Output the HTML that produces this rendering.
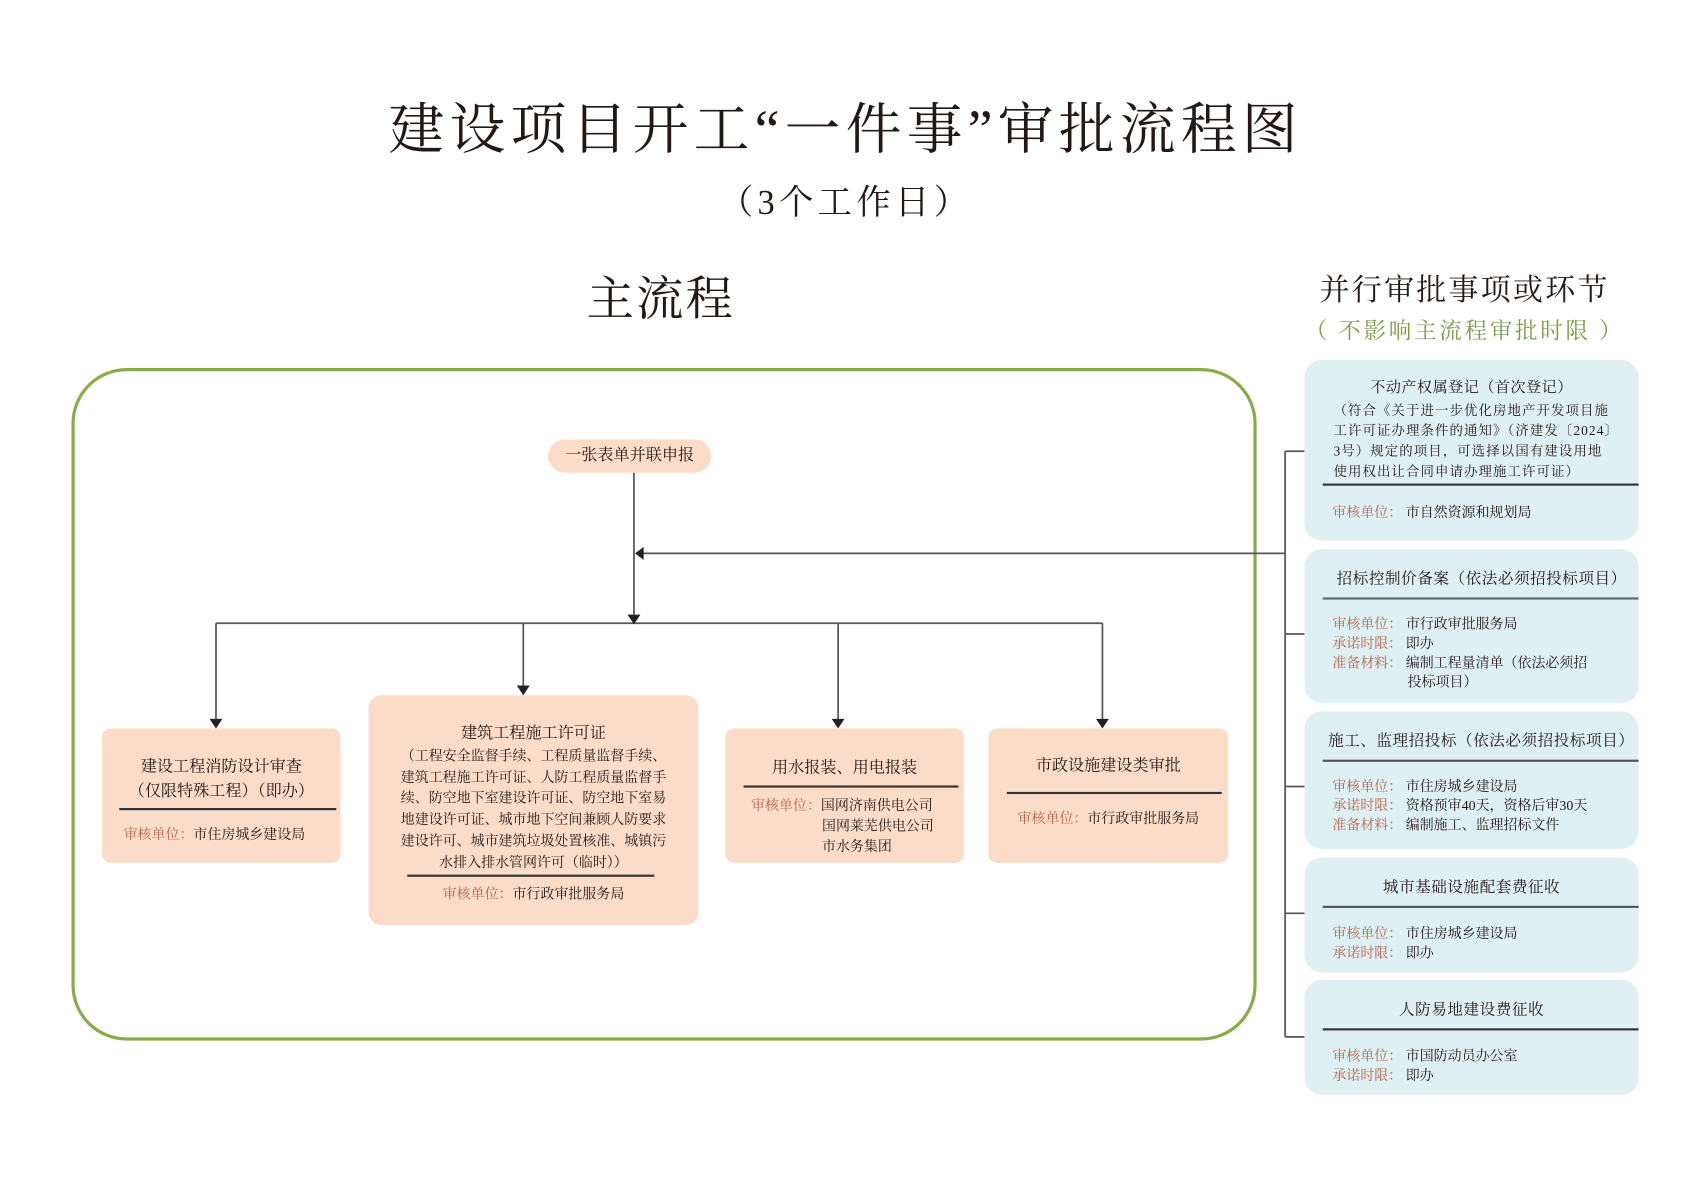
<!DOCTYPE html>
<html><head><meta charset="utf-8">
<style>
html,body{margin:0;padding:0;background:#fff;width:1683px;height:1190px;overflow:hidden}
#s{position:absolute;left:0;top:0;width:1567px;height:1108px;transform:scale(1.0745);transform-origin:0 0;font-family:"Liberation Serif","Noto Serif CJK SC",serif;color:#231815}
.a{position:absolute}
.c{text-align:center;white-space:nowrap}
.pk{position:absolute;background:#fbdcc8;border-radius:8px}
.bl{position:absolute;background:#dff0f4;border-radius:16px}
.hr{position:absolute;height:1.5px;background:#333}
.lb{color:#b5654a}
.t13{font-size:13px;line-height:18px}
.t15{font-size:15px}
</style></head><body><div id="s">
<div class="a c" style="left:0;width:1574px;top:90px;font-size:52px;line-height:64px;letter-spacing:4.8px">建设项目开工“一件事”审批流程图</div>
<div class="a c" style="left:0;width:1574px;top:168px;font-size:32px;line-height:40px;letter-spacing:4px">（3个工作日）</div>
<div class="a c" style="left:0;width:1230px;top:252px;font-size:44px;line-height:54px;letter-spacing:2px">主流程</div>
<div class="a c" style="left:1163px;width:400px;top:253px;font-size:28px;line-height:36px;letter-spacing:2px">并行审批事项或环节</div>
<div class="a c" style="left:1163px;width:400px;top:294px;font-size:21px;line-height:28px;color:#7b9c48;letter-spacing:2.5px">（ 不影响主流程审批时限 ）</div>

<svg class="a" style="left:0;top:0" width="1567" height="1108">
<rect x="68" y="344" width="1100" height="623" rx="50" fill="none" stroke="#8aab4a" stroke-width="3"/>
<g stroke="#555" stroke-width="1.6" fill="none">
<line x1="590" y1="440" x2="590" y2="572"/>
<line x1="598" y1="515" x2="1196" y2="515"/>
<line x1="201" y1="580" x2="1026" y2="580"/>
<line x1="201" y1="580" x2="201" y2="670"/>
<line x1="487" y1="580" x2="487" y2="639"/>
<line x1="780" y1="580" x2="780" y2="670"/>
<line x1="1026" y1="580" x2="1026" y2="670"/>
<line x1="1196" y1="420" x2="1196" y2="965"/>
<line x1="1196" y1="420" x2="1214" y2="420"/>
<line x1="1196" y1="590" x2="1214" y2="590"/>
<line x1="1196" y1="732" x2="1214" y2="732"/>
<line x1="1196" y1="850" x2="1214" y2="850"/>
<line x1="1196" y1="965" x2="1214" y2="965"/>
</g>
<g fill="#222">
<polygon points="584,572 596,572 590,581"/>
<polygon points="591,515 599,509 599,521"/>
<polygon points="195,669 207,669 201,678"/>
<polygon points="481,638 493,638 487,647"/>
<polygon points="774,669 786,669 780,678"/>
<polygon points="1020,669 1032,669 1026,678"/>
</g>
</svg>

<div class="pk c t15" style="left:510px;top:409px;width:152px;height:31px;line-height:31px;border-radius:16px">一张表单并联申报</div>

<div class="pk" style="left:95px;top:678px;width:222px;height:125px">
 <div class="a c t15" style="left:0;width:222px;top:25px;line-height:23px">建设工程消防设计审查<br>（仅限特殊工程）（即办）</div>
 <div class="hr" style="left:16px;width:202px;top:74px"></div>
 <div class="a t13" style="left:20px;top:90px"><span class="lb">审核单位：</span>市住房城乡建设局</div>
</div>

<div class="pk" style="left:343px;top:647px;width:307px;height:214px;border-radius:12px">
 <div class="a c t15" style="left:0;width:307px;top:25px;line-height:22px">建筑工程施工许可证</div>
 <div class="a c t13" style="left:0;width:307px;top:47px;line-height:19.7px">（工程安全监督手续、工程质量监督手续、<br>建筑工程施工许可证、人防工程质量监督手<br>续、防空地下室建设许可证、防空地下室易<br>地建设许可证、城市地下空间兼顾人防要求<br>建设许可、城市建筑垃圾处置核准、城镇污<br>水排入排水管网许可（临时））</div>
 <div class="hr" style="left:36px;width:230px;top:167px"></div>
 <div class="a c t13" style="left:0;width:307px;top:176px"><span class="lb">审核单位：</span>市行政审批服务局</div>
</div>

<div class="pk" style="left:675px;top:678px;width:222px;height:125px">
 <div class="a c t15" style="left:0;width:222px;top:26px;line-height:22px">用水报装、用电报装</div>
 <div class="hr" style="left:17px;width:200px;top:53px"></div>
 <div class="a t13" style="left:24px;top:62px;line-height:19px"><span class="lb">审核单位：</span>国网济南供电公司<br><span style="padding-left:66px">国网莱芜供电公司</span><br><span style="padding-left:66px">市水务集团</span></div>
</div>

<div class="pk" style="left:920px;top:678px;width:223px;height:125px">
 <div class="a c t15" style="left:0;width:223px;top:24px;line-height:22px">市政设施建设类审批</div>
 <div class="hr" style="left:17px;width:200px;top:59px"></div>
 <div class="a c t13" style="left:0;width:223px;top:75px"><span class="lb">审核单位：</span>市行政审批服务局</div>
</div>

<div class="bl" style="left:1214px;top:335px;width:311px;height:168px">
 <div class="a c" style="left:0;width:311px;top:18px;font-size:14px;line-height:18px;letter-spacing:0.5px">不动产权属登记（首次登记）</div>
 <div class="a" style="left:27px;width:260px;top:38px;font-size:12.5px;line-height:19px;letter-spacing:1px;word-break:break-all">（符合《关于进一步优化房地产开发项目施工许可证办理条件的通知》（济建发〔2024〕3号）规定的项目，可选择以国有建设用地使用权出让合同申请办理施工许可证）</div>
 <div class="hr" style="left:17px;width:294px;top:115px"></div>
 <div class="a t13" style="left:26px;top:133px"><span class="lb">审核单位：</span>&nbsp;市自然资源和规划局</div>
</div>

<div class="bl" style="left:1214px;top:511px;width:311px;height:143px">
 <div class="a" style="left:30px;top:18px;font-size:14.5px;line-height:20px;white-space:nowrap;letter-spacing:0.5px">招标控制价备案（依法必须招投标项目）</div>
 <div class="hr" style="left:17px;width:294px;top:45px;background:#666"></div>
 <div class="a t13" style="left:26px;top:61px"><span class="lb">审核单位：</span>&nbsp;市行政审批服务局<br><span class="lb">承诺时限：</span>&nbsp;即办<br><span class="lb">准备材料：</span>&nbsp;编制工程量清单（依法必须招<br><span style="padding-left:70px">投标项目）</span></div>
</div>

<div class="bl" style="left:1214px;top:662px;width:311px;height:128px">
 <div class="a" style="left:22px;top:18px;font-size:14.5px;line-height:20px;white-space:nowrap;letter-spacing:0.5px">施工、监理招投标（依法必须招投标项目）</div>
 <div class="hr" style="left:17px;width:294px;top:45px;background:#555"></div>
 <div class="a t13" style="left:26px;top:61px"><span class="lb">审核单位：</span>&nbsp;市住房城乡建设局<br><span class="lb">承诺时限：</span>&nbsp;资格预审40天，资格后审30天<br><span class="lb">准备材料：</span>&nbsp;编制施工、监理招标文件</div>
</div>

<div class="bl" style="left:1214px;top:798px;width:311px;height:107px">
 <div class="a c" style="left:0;width:311px;top:18px;font-size:14.5px;line-height:20px;letter-spacing:0.5px">城市基础设施配套费征收</div>
 <div class="hr" style="left:17px;width:294px;top:45px;background:#555"></div>
 <div class="a t13" style="left:26px;top:62px"><span class="lb">审核单位：</span>&nbsp;市住房城乡建设局<br><span class="lb">承诺时限：</span>&nbsp;即办</div>
</div>

<div class="bl" style="left:1214px;top:912px;width:311px;height:107px">
 <div class="a c" style="left:0;width:311px;top:18px;font-size:14.5px;line-height:20px;letter-spacing:0.5px">人防易地建设费征收</div>
 <div class="hr" style="left:17px;width:294px;top:45px"></div>
 <div class="a t13" style="left:26px;top:62px"><span class="lb">审核单位：</span>&nbsp;市国防动员办公室<br><span class="lb">承诺时限：</span>&nbsp;即办</div>
</div>
</div></body></html>
